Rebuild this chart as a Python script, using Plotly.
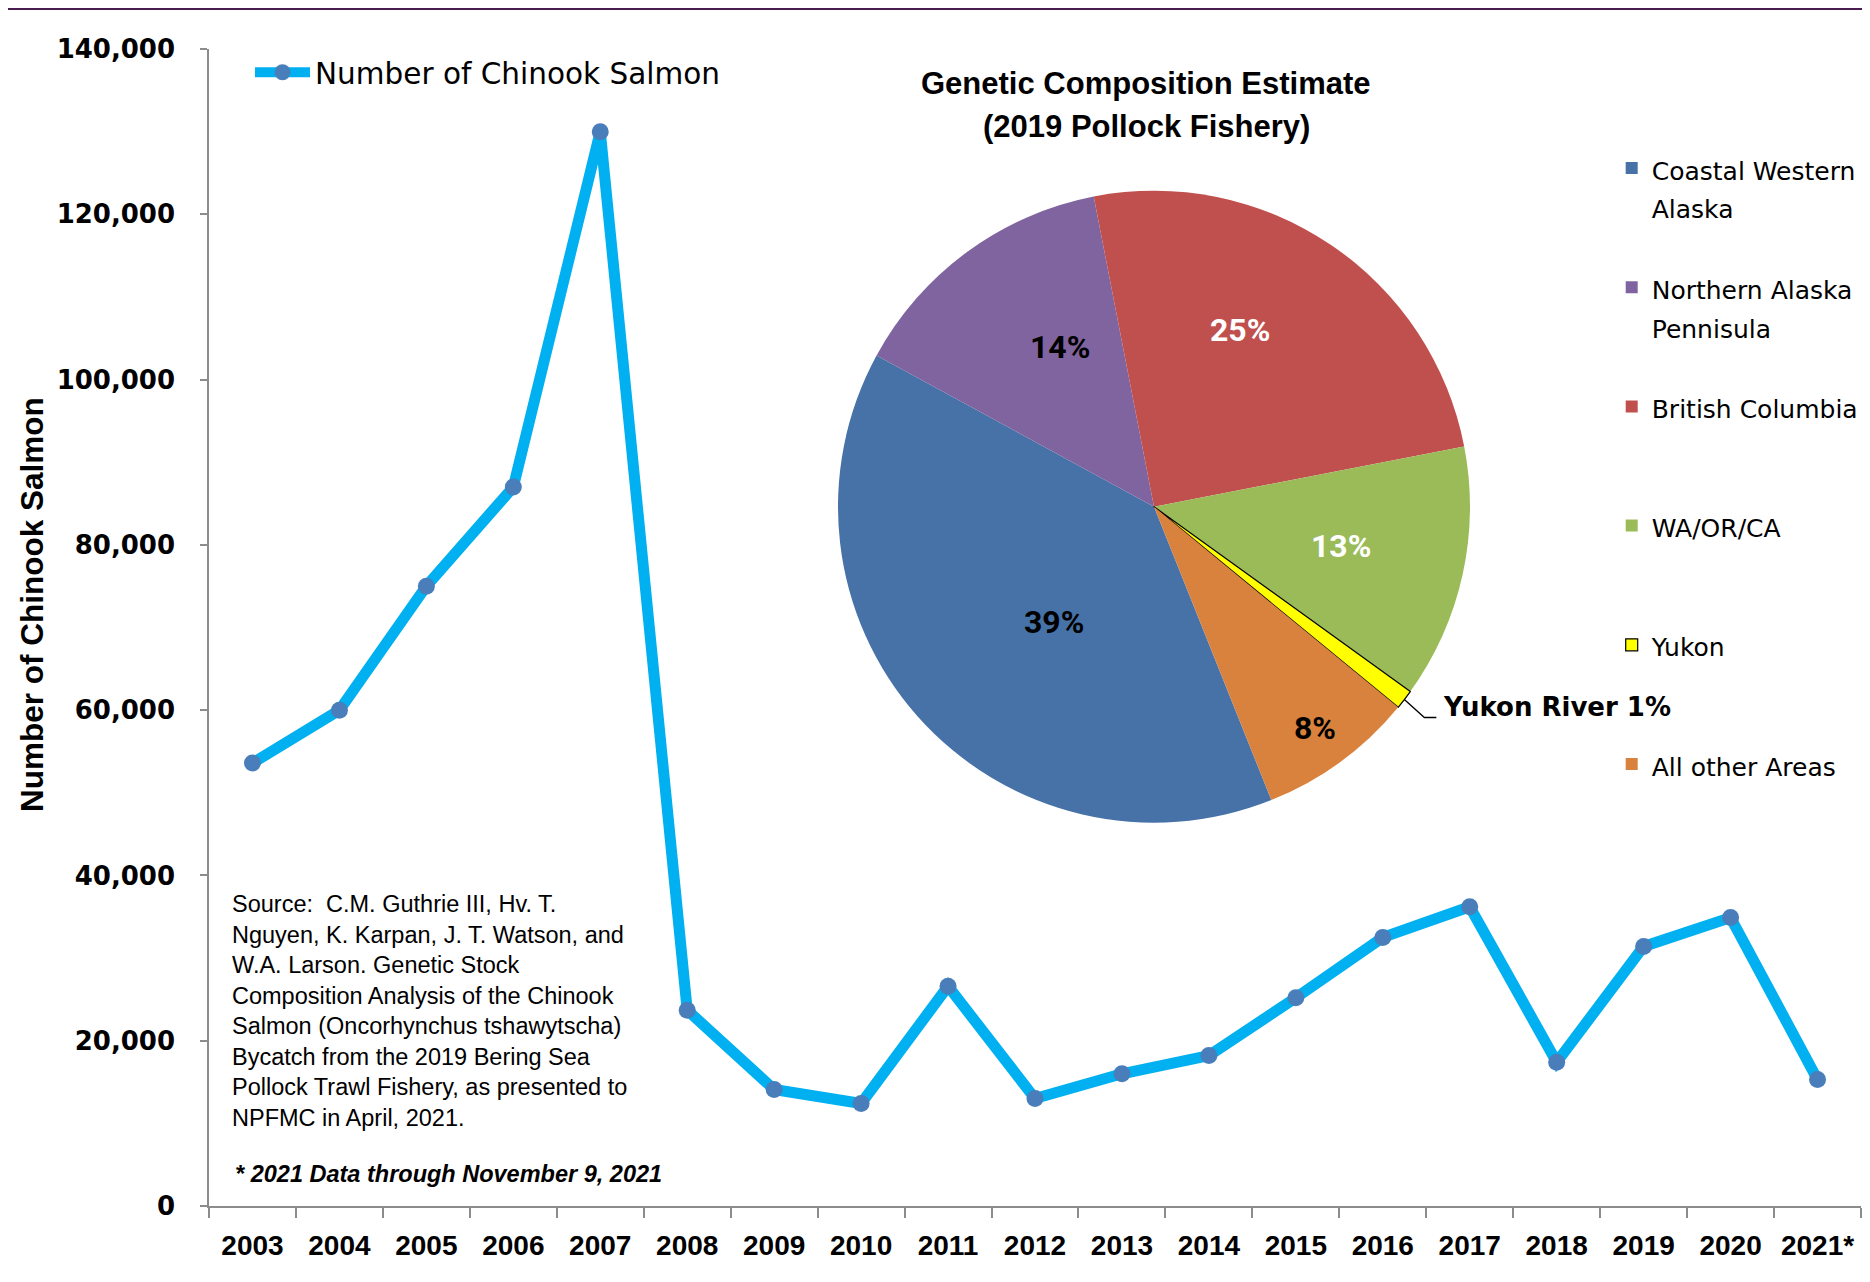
import math
import plotly.graph_objects as go

# ---------------- data ----------------
years = ["2003", "2004", "2005", "2006", "2007", "2008", "2009", "2010", "2011", "2012",
         "2013", "2014", "2015", "2016", "2017", "2018", "2019", "2020", "2021*"]
chinook = [53600, 60000, 75000, 87000, 130000, 23700, 14100, 12400, 26600, 13000,
           16000, 18200, 25200, 32500, 36200, 17400, 31400, 34900, 15300]
y_ticks = [0, 20000, 40000, 60000, 80000, 100000, 120000, 140000]

regions = ["Coastal Western Alaska", "Northern Alaska Pennisula", "British Columbia",
           "WA/OR/CA", "Yukon", "All other Areas"]
region_legend_lines = [["Coastal Western", "Alaska"], ["Northern Alaska", "Pennisula"],
                       ["British Columbia"], ["WA/OR/CA"], ["Yukon"], ["All other Areas"]]
shares = [39, 14, 25, 13, 1, 8]
region_colors = ["#4672A8", "#80649F", "#C0504E", "#9BBB59", "#FFFF00", "#D9823D"]
label_colors = ["black", "black", "white", "white", "black", "black"]
# label placement style (Excel "best fit"): radius fraction and angular nudge
label_rfrac = [0.482, 0.587, 0.622, 0.604, 0.0, 0.867]
label_dang = [-7.5, 5.8, -8.0, -0.4, 0.0, 0.2]

source_lines = ["Source:  C.M. Guthrie III, Hv. T.",
                "Nguyen, K. Karpan, J. T. Watson, and",
                "W.A. Larson. Genetic Stock",
                "Composition Analysis of the Chinook",
                "Salmon (Oncorhynchus tshawytscha)",
                "Bycatch from the 2019 Bering Sea",
                "Pollock Trawl Fishery, as presented to",
                "NPFMC in April, 2021."]
note_text = "* 2021 Data through November 9, 2021"
pie_title = ["Genetic Composition Estimate", "(2019 Pollock Fishery)"]
yukon_label = "Yukon River 1%"

# ---------------- layout geometry ----------------
# the page body adds an 8px offset; targets below are in window pixels
OFF = 8
W, H = 1870 - OFF, 1282 - OFF
ML, MR, MT, MB = 209 - OFF, 9, 49 - OFF, 76
PW = W - ML - MR
PH = H - MT - MB


def px_x(sx):
    return (sx - OFF - ML) / PW


def px_y(sy):
    return (H - MB - (sy - OFF)) / PH


def cont_x(sx):
    return (sx - OFF) / W


def cont_y(sy):
    return 1 - (sy - OFF) / H


PIE_CX, PIE_CY, PIE_R = 1154.0, 506.7, 316.0
PIE_ROT = 158.2

fig = go.Figure()

fig.add_trace(go.Scatter(
    x=years, y=chinook, mode="lines+markers",
    name="Number of Chinook Salmon",
    line=dict(color="#00B0F0", width=11),
    marker=dict(color="#4A7EBB", size=17),
    legend="legend",
    hoverinfo="x+y",
))

span = "<span style='font-size:25px'>{}</span>"
pie_legend_labels = []
for lines in region_legend_lines:
    parts = ["\u00a0"] + lines + ["\u00a0"] * (2 - len(lines))
    pie_legend_labels.append("<br>".join(span.format(p) for p in parts))

fig.add_trace(go.Pie(
    labels=pie_legend_labels, values=shares, sort=False, direction="clockwise",
    rotation=PIE_ROT,
    marker=dict(colors=region_colors,
                line=dict(color=["rgba(0,0,0,0)"] * 4 + ["black", "rgba(0,0,0,0)"],
                          width=[0, 0, 0, 0, 1.2, 0])),
    textinfo="none",
    domain=dict(x=[px_x(PIE_CX - PIE_R), px_x(PIE_CX + PIE_R)],
                y=[px_y(PIE_CY + PIE_R), px_y(PIE_CY - PIE_R)]),
    legend="legend2",
    hoverinfo="percent",
))

# percentage labels placed along each slice's mid-angle
total = sum(shares)
acc = 0.0
mids = []
for s in shares:
    mids.append(PIE_ROT + (acc + s / 2) / total * 360)
    acc += s
for i, s in enumerate(shares):
    if label_rfrac[i] <= 0:
        continue
    a = math.radians(mids[i] + label_dang[i])
    lx = PIE_CX + label_rfrac[i] * PIE_R * math.sin(a)
    ly = PIE_CY - label_rfrac[i] * PIE_R * math.cos(a)
    fig.add_annotation(x=px_x(lx), y=px_y(ly), xref="paper", yref="paper",
                       text=f"<b>{s / total * 100:.0f}%</b>", showarrow=False,
                       xanchor="center", yanchor="middle",
                       font=dict(family="Roboto", size=32, color=label_colors[i]))

# Yukon leader line, from the slice's mid-angle
ya = math.radians(mids[4])
ex = PIE_CX + PIE_R * math.sin(ya)
ey = PIE_CY - PIE_R * math.cos(ya)
p1 = (ex + 20, ey + 18)
p2 = (p1[0] + 12, p1[1])
fig.add_shape(type="path",
              path=f"M {px_x(ex)},{px_y(ey)} L {px_x(p1[0])},{px_y(p1[1])} L {px_x(p2[0])},{px_y(p2[1])}",
              xref="paper", yref="paper", line=dict(color="black", width=1.3))
fig.add_annotation(x=px_x(p2[0] + 5), y=px_y(p1[1] - 11), xref="paper", yref="paper",
                   text=f"<b>{yukon_label}</b>", showarrow=False, xanchor="left", yanchor="middle",
                   font=dict(family="DejaVu Sans", size=26, color="black"))

# top border line
fig.add_shape(type="line", xref="paper", yref="paper", x0=px_x(0), x1=px_x(1880),
              y0=px_y(OFF + 1), y1=px_y(OFF + 1), line=dict(color="#4B1C50", width=2))

# pie title (two lines)
for j, (t, yy) in enumerate(zip(pie_title, [83.5, 126.5])):
    fig.add_annotation(x=px_x(1146), y=px_y(yy), xref="paper", yref="paper",
                       text=f"<b>{t}</b>", showarrow=False,
                       xanchor="center", yanchor="middle",
                       font=dict(family="Liberation Sans", size=31, color="black"))

# source text
fig.add_annotation(x=px_x(230), y=px_y(889), xref="paper", yref="paper",
                   text="<br>".join(source_lines), showarrow=False, align="left",
                   xanchor="left", yanchor="top",
                   font=dict(family="Liberation Sans", size=23.5, color="black"))
fig.add_annotation(x=px_x(233), y=px_y(1173.5), xref="paper", yref="paper",
                   text=f"<b><i>{note_text}</i></b>", showarrow=False,
                   xanchor="left", yanchor="middle",
                   font=dict(family="Liberation Sans", size=23.5, color="black"))

# y axis title
fig.add_annotation(x=px_x(32), y=px_y(605), xref="paper", yref="paper",
                   text="<b>Number of Chinook Salmon</b>", showarrow=False, textangle=-90,
                   xanchor="center", yanchor="middle",
                   font=dict(family="Liberation Sans", size=31.5, color="black"))

fig.update_layout(
    width=W, height=H,
    margin=dict(l=ML, r=MR, t=MT, b=MB, autoexpand=False),
    paper_bgcolor="white", plot_bgcolor="white",
    showlegend=True,
    legend=dict(x=cont_x(250), y=cont_y(72.3 - 25.7), xref="container", yref="container",
                xanchor="left", yanchor="top", bgcolor="rgba(0,0,0,0)", itemwidth=55,
                font=dict(family="DejaVu Sans", size=29.5, color="black")),
    legend2=dict(x=cont_x(1611.7), y=cont_y(168.0 - 64.65), xref="container", yref="container",
                 xanchor="left", yanchor="top", bgcolor="rgba(0,0,0,0)", maxheight=1100,
                 font=dict(family="DejaVu Sans", size=29.8, color="black")),
    xaxis=dict(type="category", range=[-0.5, len(years) - 0.5], showgrid=False,
               showline=True, linecolor="#8C8C8C", linewidth=1.5,
               ticks="outside", tickson="boundaries", ticklen=10, tickcolor="#8C8C8C",
               tickwidth=1.5, ticklabelstandoff=14,
               tickfont=dict(family="Liberation Sans", size=28, color="black", weight="bold"),
               fixedrange=True, zeroline=False),
    yaxis=dict(range=[0, 140000], tickvals=y_ticks, tickformat=",", showgrid=False,
               showline=True, linecolor="#8C8C8C", linewidth=1.5, zeroline=False,
               ticks="outside", ticklen=7, tickcolor="#8C8C8C", tickwidth=1.5,
               ticklabelstandoff=20,
               tickfont=dict(family="DejaVu Sans", size=26, color="black", weight="bold"),
               fixedrange=True),
)

fig.write_html("out.html")
